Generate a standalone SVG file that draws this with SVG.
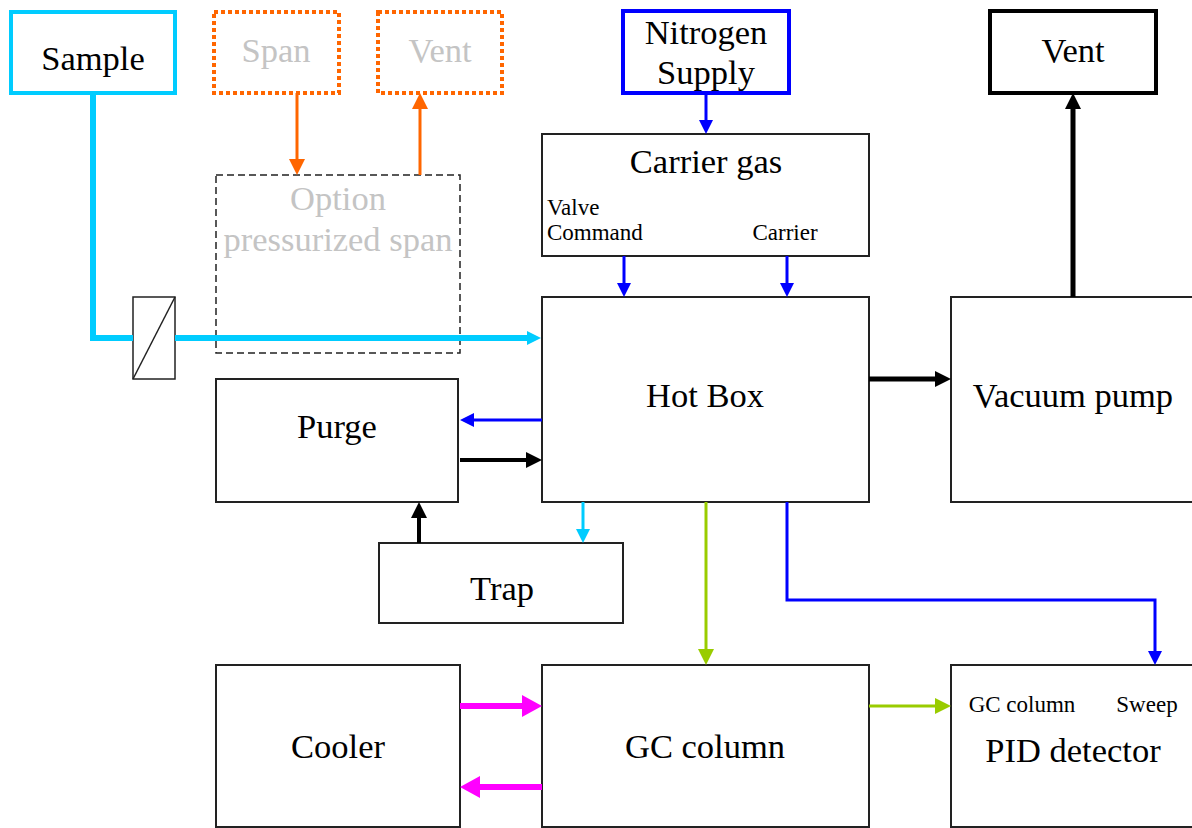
<svg xmlns="http://www.w3.org/2000/svg" width="1192" height="828" viewBox="0 0 1192 828" font-family="Liberation Serif, Tinos, DejaVu Serif, serif">
<style>
text{font-family:'Liberation Serif','Tinos','DejaVu Serif',serif;fill:#000;text-anchor:middle}
.big{font-size:34.5px}
.sm{font-size:23px}
.gray{fill:#c4c4c4}
.box{fill:#fff;stroke:#222;stroke-width:2}
.dash{fill:none;stroke:#222;stroke-width:1.5;stroke-dasharray:7,4}
.odot{fill:#fff;stroke:#ff6600;stroke-width:4;stroke-dasharray:4,3}
.c{fill:none;stroke-linejoin:miter}
</style>
<defs>
<marker id="mb" markerUnits="userSpaceOnUse" markerWidth="14" markerHeight="14" refX="4" refY="7" orient="auto"><path d="M0,0 L14,7 L0,14 z" fill="#0000ff"/></marker>
<marker id="mk" markerUnits="userSpaceOnUse" markerWidth="16" markerHeight="16" refX="6" refY="8" orient="auto"><path d="M0,0 L16,8 L0,16 z" fill="#000"/></marker>
<marker id="mc" markerUnits="userSpaceOnUse" markerWidth="14" markerHeight="14" refX="4" refY="7" orient="auto"><path d="M0,0 L14,7 L0,14 z" fill="#00ccff"/></marker>
<marker id="mo" markerUnits="userSpaceOnUse" markerWidth="16" markerHeight="16" refX="6" refY="8" orient="auto"><path d="M0,0 L16,8 L0,16 z" fill="#ff6600"/></marker>
<marker id="mg" markerUnits="userSpaceOnUse" markerWidth="16" markerHeight="16" refX="6" refY="8" orient="auto"><path d="M0,0 L16,8 L0,16 z" fill="#99cc00"/></marker>
<marker id="mm" markerUnits="userSpaceOnUse" markerWidth="20" markerHeight="22" refX="10" refY="11" orient="auto"><path d="M0,0 L20,11 L0,22 z" fill="#ff00ff"/></marker>
</defs>

<g id="sample"><rect x="11" y="12" width="164" height="81" fill="#fff" stroke="#00ccff" stroke-width="4"/><text class="big" x="93" y="70">Sample</text></g>
<g id="span"><rect class="odot" x="214" y="12" width="125" height="81"/><text class="big gray" x="276" y="62">Span</text></g>
<g id="vent-orange"><rect class="odot" x="378" y="12" width="124" height="81"/><text class="big gray" x="440" y="62">Vent</text></g>
<g id="option"><rect class="dash" x="216" y="175" width="244" height="178"/><text class="big gray" x="338" y="210">Option</text><text class="big gray" x="338" y="251">pressurized span</text></g>
<g id="valve"><rect x="133" y="297" width="42" height="82" fill="#fff" stroke="#222" stroke-width="1.5"/><line x1="133" y1="379" x2="175" y2="297" stroke="#222" stroke-width="1.5"/></g>
<g id="nitrogen"><rect x="623" y="11" width="166" height="82" fill="#fff" stroke="#0000ff" stroke-width="4"/><text class="big" x="706" y="44">Nitrogen</text><text class="big" x="706" y="84">Supply</text></g>
<g id="carrier"><rect class="box" x="542" y="134" width="327" height="122"/><text class="big" x="706" y="173">Carrier gas</text><text class="sm" x="547" y="215" style="text-anchor:start">Valve</text><text class="sm" x="547" y="240" style="text-anchor:start">Command</text><text class="sm" x="785" y="240">Carrier</text></g>
<g id="vent"><rect x="990" y="11" width="166" height="82" fill="#fff" stroke="#000" stroke-width="4"/><text class="big" x="1073" y="62">Vent</text></g>
<g id="hotbox"><rect class="box" x="542" y="297" width="327" height="205"/><text class="big" x="705" y="407">Hot Box</text></g>
<g id="vacuum"><rect class="box" x="951" y="297" width="250" height="205"/><text class="big" x="1073" y="407">Vacuum pump</text></g>
<g id="purge"><rect class="box" x="216" y="379" width="242" height="123"/><text class="big" x="337" y="438">Purge</text></g>
<g id="trap"><rect class="box" x="379" y="543" width="244" height="80"/><text class="big" x="502" y="600">Trap</text></g>
<g id="cooler"><rect class="box" x="216" y="665" width="244" height="162"/><text class="big" x="338" y="758">Cooler</text></g>
<g id="gccolumn"><rect class="box" x="542" y="665" width="327" height="162"/><text class="big" x="705" y="758">GC column</text></g>
<g id="pid"><rect class="box" x="951" y="665" width="250" height="162"/><text class="sm" x="1022" y="712">GC column</text><text class="sm" x="1147" y="712">Sweep</text><text class="big" x="1073" y="762">PID detector</text></g>

<g id="connectors">
<path class="c" d="M93,93 V338 H133" stroke="#00ccff" stroke-width="6"/>
<path class="c" d="M175,338 H531" stroke="#00ccff" stroke-width="6" marker-end="url(#mc)"/>
<path class="c" d="M297,93 V165" stroke="#ff6600" stroke-width="3" marker-end="url(#mo)"/>
<path class="c" d="M420,175 V103" stroke="#ff6600" stroke-width="3" marker-end="url(#mo)"/>
<path class="c" d="M706,93 V124" stroke="#0000ff" stroke-width="3" marker-end="url(#mb)"/>
<path class="c" d="M624,256 V287" stroke="#0000ff" stroke-width="3" marker-end="url(#mb)"/>
<path class="c" d="M787,256 V287" stroke="#0000ff" stroke-width="3" marker-end="url(#mb)"/>
<path class="c" d="M1073,297 V103" stroke="#000" stroke-width="5" marker-end="url(#mk)"/>
<path class="c" d="M869,379 H941" stroke="#000" stroke-width="5" marker-end="url(#mk)"/>
<path class="c" d="M542,420 H470" stroke="#0000ff" stroke-width="3" marker-end="url(#mb)"/>
<path class="c" d="M460,460 H532" stroke="#000" stroke-width="4" marker-end="url(#mk)"/>
<path class="c" d="M419,543 V512" stroke="#000" stroke-width="4" marker-end="url(#mk)"/>
<path class="c" d="M583,502 V533" stroke="#00ccff" stroke-width="3" marker-end="url(#mc)"/>
<path class="c" d="M706,502 V655" stroke="#99cc00" stroke-width="3" marker-end="url(#mg)"/>
<path class="c" d="M787,502 V600 H1155 V655" stroke="#0000ff" stroke-width="3" marker-end="url(#mb)"/>
<path class="c" d="M460,706 H532" stroke="#ff00ff" stroke-width="6" marker-end="url(#mm)"/>
<path class="c" d="M542,787 H470" stroke="#ff00ff" stroke-width="6" marker-end="url(#mm)"/>
<path class="c" d="M869,706 H941" stroke="#99cc00" stroke-width="3" marker-end="url(#mg)"/>
</g>
</svg>
